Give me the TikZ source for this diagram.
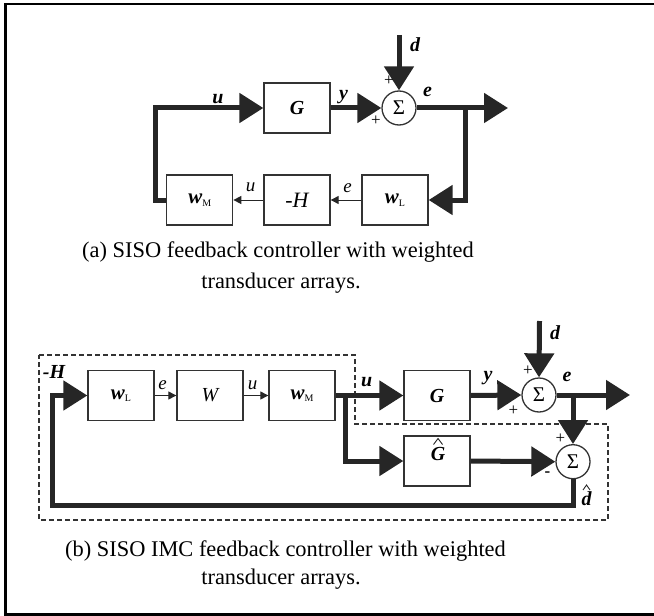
\documentclass[tikz,border=0pt]{standalone}
\usepackage{fontspec}
\setmainfont{Liberation Serif}
\usetikzlibrary{arrows.meta}
\definecolor{linec}{HTML}{262626}
\definecolor{boxc}{HTML}{333333}
\begin{document}
\begin{tikzpicture}[x=1bp,y=-1bp,
  blk/.style={draw=boxc, line width=1.3bp, minimum width=66bp, minimum height=50bp, inner sep=0pt, font=\fontsize{20}{20}\selectfont},
  sumnode/.style={draw=boxc, circle, line width=1.3bp, minimum size=34bp, inner sep=0pt, font=\fontsize{21}{21}\selectfont},
  bigarrow/.style={line width=5bp, draw=linec, line join=miter, -{Triangle[length=24bp,width=29bp]}},
  bigline/.style={line width=5bp, draw=linec, line join=miter},
  smallarrow/.style={line width=1bp, draw=linec, -{Triangle[length=8bp,width=8bp]}},
  lbl/.style={inner sep=0pt, font=\fontsize{20}{20}\selectfont\bfseries\itshape},
  slbl/.style={inner sep=0pt, font=\fontsize{19}{19}\selectfont\itshape},
  sgn/.style={inner sep=0pt, font=\fontsize{17}{17}\selectfont},
  captext/.style={anchor=base, inner sep=0pt, font=\fontsize{22.5}{22.5}\selectfont},
  hatline/.style={line width=0.9bp, draw=linec}
]
\newcommand{\wsub}[1]{{\fontsize{21}{21}\selectfont\bfseries\itshape w}\raisebox{-2.5bp}{\fontsize{10}{10}\selectfont #1}}
\useasboundingbox (0,0) rectangle (654,616);
% frame
\draw[line width=2.5bp, black] (654,4.2) -- (5.3,4.2) -- (5.3,614.6) -- (654,614.6);

% ---------- (a) ----------
\node[blk] (Ga) at (297,108) {\bfseries\itshape G};
\node[sumnode] (Sa) at (399,108) {Σ};
\node[blk] (wMa) at (199.7,200) {\wsub{M}};
\node[blk] (Ha) at (297,200) {\fontsize{22}{22}\selectfont\itshape -H};
\node[blk] (wLa) at (395,200) {\wsub{L}};
\coordinate (da) at (399,35);
\coordinate (la1) at (155,200);
\coordinate (la2) at (155,108);
\coordinate (ra1) at (465,108);
\coordinate (ra2) at (465,200);
\coordinate (outa) at (508,108);

\draw[bigarrow] (wMa.west) -- (la1) -- (la2) -- (Ga.west);
\draw[bigarrow] (Ga.east) -- (Sa.west);
\draw[bigarrow] (da) -- (Sa.north);
\draw[bigarrow] (Sa.east) -- (outa);
\draw[bigarrow] (ra1) -- (ra2) -- (wLa.east);
\draw[smallarrow] (wLa.west) -- (Ha.east);
\draw[smallarrow] (Ha.west) -- (wMa.east);

\node[lbl] (ua) at (218,99) {u};
\node[lbl] (ya) at (343.5,96.7) {y};
\node[lbl] (ea) at (427.5,92) {e};
\node[lbl] (dla) at (415,45) {d};
\node[sgn] (p1a) at (389,81) {+};
\node[sgn] (p2a) at (376,121) {+};
\node[slbl] (sua) at (250.5,187.5) {u};
\node[slbl] (sea) at (347.5,188) {e};

\node[captext] (capa1) at (278,257.5) {(a) SISO feedback controller with weighted};
\node[captext] (capa2) at (281,288) {transducer arrays.};

% ---------- (b) ----------
\draw[line width=1.1bp, draw=boxc, dash pattern=on 5bp off 3bp]
  (39,355) -- (355,355) -- (355,424) -- (608,424) -- (608,520) -- (39,520) -- cycle;

\node[blk] (wLb) at (121,395.5) {\wsub{L}};
\node[blk] (Wb) at (210,395.5) {\itshape W};
\node[blk] (wMb) at (302,395.5) {\wsub{M}};
\node[blk] (Gb) at (437,395.5) {\bfseries\itshape G};
\node[blk] (Ghb) at (437,461) {};
\node[lbl] (Ghl) at (438,454) {G};
\draw[hatline] (433.5,444.5) -- (438,438.5) -- (442.5,444.5);
\node[sumnode] (S1b) at (539,395) {Σ};
\node[sumnode] (S2b) at (573,461.7) {Σ};
\coordinate (db) at (539.5,321);
\coordinate (brb) at (345,395.5);
\coordinate (brb2) at (345,461);
\coordinate (outb) at (630,395);
\coordinate (ebr) at (573,395);
\coordinate (bt1) at (573,505);
\coordinate (bt2) at (52,505);
\coordinate (bt3) at (52,395.5);

\draw[bigarrow] (wMb.east) -- (Gb.west);
\draw[bigarrow] (brb) -- (brb2) -- (Ghb.west);
\draw[bigarrow] (Gb.east) -- (S1b.west);
\draw[bigarrow] (db) -- (S1b.north);
\draw[bigarrow] (S1b.east) -- (outb);
\draw[bigarrow] (ebr) -- (S2b.north);
\draw[bigarrow] (Ghb.east) -- (S2b.west);
\draw[bigarrow] (S2b.south) -- (bt1) -- (bt2) -- (bt3) -- (wLb.west);
\draw[smallarrow] (wLb.east) -- (Wb.west);
\draw[smallarrow] (Wb.east) -- (wMb.west);

\node[lbl] (Hb) at (54,372) {-H};
\node[slbl] (seb) at (162.5,385) {e};
\node[slbl] (sub) at (252.5,385) {u};
\node[lbl] (ub) at (366.7,382) {u};
\node[lbl] (yb) at (488,378) {y};
\node[lbl] (dlb) at (555,333) {d};
\node[lbl] (eb) at (567,377) {e};
\node[sgn] (p1b) at (528,371) {+};
\node[sgn] (p2b) at (513.5,410.5) {+};
\node[sgn] (p3b) at (560.5,439) {+};
\node[sgn, font=\fontsize{17}{17}\selectfont\bfseries] (m1b) at (547.5,474) {-};
\node[lbl] (dhb) at (586.5,498.5) {d};
\draw[hatline] (583,490) -- (586.5,485) -- (590,490);

\node[captext] (capb1) at (285.5,556) {(b) SISO IMC feedback controller with weighted};
\node[captext] (capb2) at (281,584) {transducer arrays.};
\end{tikzpicture}
\end{document}
